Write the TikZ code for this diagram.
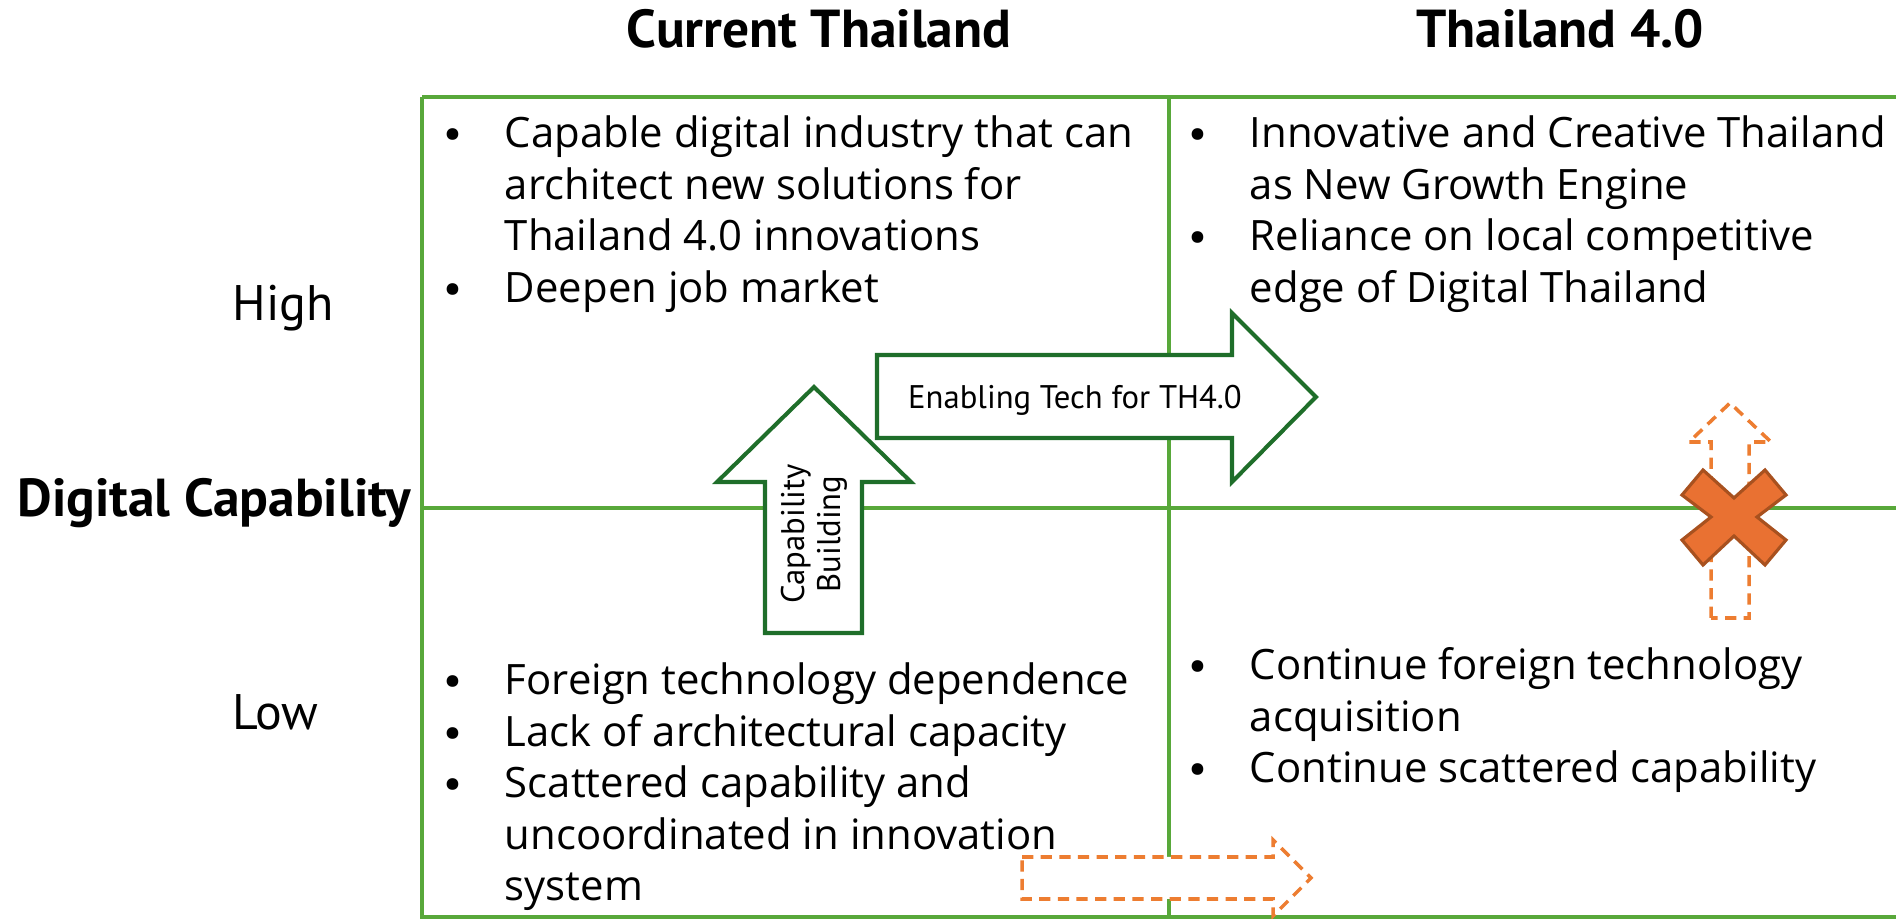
\documentclass[tikz,border=0pt]{standalone}
\usepackage{fontspec}
\setmainfont{PT Sans}
\newfontfamily\cellfont{Open Sans}
\usetikzlibrary{positioning}

\definecolor{gridgreen}{HTML}{58A83A}
\definecolor{arrowgreen}{HTML}{1F6E2A}
\definecolor{dashorange}{HTML}{ED7D31}
\definecolor{crossfill}{HTML}{E97132}
\definecolor{crossline}{HTML}{A8511F}

\newcommand{\bul}{\makebox[17.4pt][l]{\rmfamily\textbullet}}

\tikzset{
  gridline/.style={gridgreen, line width=1pt},
  fatarrow/.style={draw=arrowgreen, fill=white, line width=1.15pt, line join=miter},
  ghostarrow/.style={draw=dashorange, fill=white, line width=1pt, dash pattern=on 3.2pt off 2.1pt},
  headtext/.style={font=\fontsize{15.2}{18}\selectfont\bfseries, inner sep=0pt, anchor=base},
  leveltext/.style={font=\fontsize{14.2}{17}\selectfont, inner sep=0pt, anchor=base west},
  celltext/.style={font=\cellfont\fontsize{11.9}{14.6}\selectfont, inner sep=0pt, anchor=base west},
  arrowtext/.style={font=\fontsize{9.3}{10.2}\selectfont, inner sep=0pt},
}

\begin{document}
\begin{tikzpicture}[x=0.01cm, y=-0.01cm]
        \useasboundingbox (0,0) rectangle (1896,919);

        % Disegna la griglia
        \draw[gridline] (422,97) -- (1896,97);
        \draw[gridline] (422,508) -- (1896,508);
        \draw[gridline] (422,917) -- (1896,917);
        \draw[gridline] (422,97) -- (422,919);
        \draw[gridline] (1169,97) -- (1169,919);

        % Titoli
        \node[headtext] (current) at (819,48) {Current Thailand};
        \node[headtext] (future) at (1560,48) {Thailand 4.0};
        \node[headtext, anchor=base west] (axis) at (17,517) {Digital Capability};
        \node[leveltext] (high) at (232,321) {High};
        \node[leveltext] (low) at (232,730) {Low};

        % Testo dei quadranti
        \node[celltext] (highnow) at (443,148) {\begin{tabular}[t]{@{}l@{}l@{}}
            \bul & Capable digital industry that can \\
                 & architect new solutions for \\
                 & Thailand 4.0 innovations \\
            \bul & Deepen job market
        \end{tabular}};
        \node[celltext] (highnext) at (1188,148) {\begin{tabular}[t]{@{}l@{}l@{}}
            \bul & Innovative and Creative Thailand \\
                 & as New Growth Engine \\
            \bul & Reliance on local competitive \\
                 & edge of Digital Thailand
        \end{tabular}};
        \node[celltext] (lownow) at (443,695) {\begin{tabular}[t]{@{}l@{}l@{}}
            \bul & Foreign technology dependence \\
            \bul & Lack of architectural capacity \\
            \bul & Scattered capability and \\
                 & uncoordinated in innovation \\
                 & system
        \end{tabular}};
        \node[celltext] (lownext) at (1188,680) {\begin{tabular}[t]{@{}l@{}l@{}}
            \bul & Continue foreign technology \\
                 & acquisition \\
            \bul & Continue scattered capability
        \end{tabular}};

        % Frecce verdi
        \draw[fatarrow] (765,633) -- (765,482) -- (717,482) -- (814,387)
            -- (911,482) -- (862,482) -- (862,633) -- cycle;
        \node[arrowtext, rotate=90, align=center] (build) at (814,534) {Capability\\Building};

        \draw[fatarrow] (877,355) -- (1232,355) -- (1232,313) -- (1316,397)
            -- (1232,482) -- (1232,438) -- (877,438) -- cycle;
        \node[arrowtext, anchor=base] (enable) at (1075,409) {Enabling Tech for TH4.0};

        % Frecce tratteggiate
        \draw[ghostarrow] (1711,618) -- (1711,442) -- (1689,442) -- (1730,403)
            -- (1771,442) -- (1749,442) -- (1749,618) -- cycle;
        \draw[ghostarrow] (1022,857) -- (1273,857) -- (1273,840) -- (1311,878)
            -- (1273,916) -- (1273,899) -- (1022,899) -- cycle;

        % Croce
        \draw[fill=crossfill, draw=crossline, line width=0.9pt, line join=miter, shift={(1734,517)}]
            (-31,-47) -- (0,-19) -- (31,-47) -- (52,-22) -- (23,0) -- (52,23)
            -- (31,48) -- (0,19) -- (-31,48) -- (-52,23) -- (-23,0) -- (-52,-22) -- cycle;
    \end{tikzpicture}
\end{document}
